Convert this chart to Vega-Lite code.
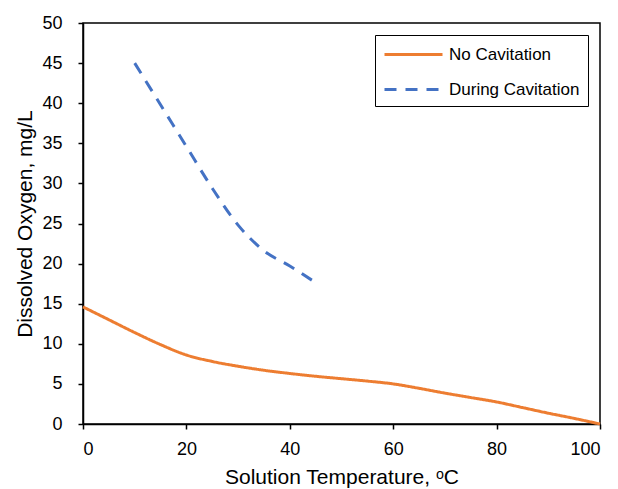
{
  "$schema": "https://vega.github.io/schema/vega-lite/v6.json",
  "width": 517,
  "height": 401,
  "autosize": "none",
  "padding": {"left": 83, "top": 23, "right": 18, "bottom": 65},
  "background": "white",
  "config": {
    "font": "Liberation Sans",
    "view": {"stroke": "black", "strokeWidth": 1.5},
    "axis": {
      "grid": false,
      "domainColor": "black",
      "domainWidth": 1.5,
      "tickColor": "black",
      "tickWidth": 1.5,
      "tickSize": 5,
      "labelColor": "black",
      "labelFontSize": 18,
      "titleColor": "black",
      "titleFontSize": 21,
      "titleFontWeight": "normal",
      "labelFont": "Liberation Sans",
      "titleFont": "Liberation Sans"
    }
  },
  "data": {
    "values": [
      {"series": "No Cavitation", "temp": 0, "do": 14.6},
      {"series": "No Cavitation", "temp": 5, "do": 13.0},
      {"series": "No Cavitation", "temp": 10, "do": 11.4},
      {"series": "No Cavitation", "temp": 15, "do": 9.9},
      {"series": "No Cavitation", "temp": 20, "do": 8.6},
      {"series": "No Cavitation", "temp": 25, "do": 7.8},
      {"series": "No Cavitation", "temp": 30, "do": 7.2},
      {"series": "No Cavitation", "temp": 35, "do": 6.7},
      {"series": "No Cavitation", "temp": 40, "do": 6.3},
      {"series": "No Cavitation", "temp": 45, "do": 5.95},
      {"series": "No Cavitation", "temp": 50, "do": 5.65},
      {"series": "No Cavitation", "temp": 55, "do": 5.35},
      {"series": "No Cavitation", "temp": 60, "do": 5.0},
      {"series": "No Cavitation", "temp": 65, "do": 4.45},
      {"series": "No Cavitation", "temp": 70, "do": 3.85},
      {"series": "No Cavitation", "temp": 75, "do": 3.3},
      {"series": "No Cavitation", "temp": 80, "do": 2.75},
      {"series": "No Cavitation", "temp": 85, "do": 2.05},
      {"series": "No Cavitation", "temp": 90, "do": 1.35},
      {"series": "No Cavitation", "temp": 95, "do": 0.7},
      {"series": "No Cavitation", "temp": 100, "do": 0.0},
      {"series": "During Cavitation", "temp": 10, "do": 45.0},
      {"series": "During Cavitation", "temp": 15, "do": 39.8},
      {"series": "During Cavitation", "temp": 20, "do": 34.6},
      {"series": "During Cavitation", "temp": 25, "do": 29.4},
      {"series": "During Cavitation", "temp": 30, "do": 24.8},
      {"series": "During Cavitation", "temp": 35, "do": 21.6},
      {"series": "During Cavitation", "temp": 40, "do": 19.7},
      {"series": "During Cavitation", "temp": 45.3, "do": 17.5}
    ]
  },
  "mark": {"type": "line", "strokeWidth": 3, "interpolate": "monotone"},
  "encoding": {
    "x": {
      "field": "temp",
      "type": "quantitative",
      "scale": {"domain": [0, 100], "nice": false, "zero": false},
      "axis": {"values": [0, 20, 40, 60, 80, 100], "labelPadding": 11, "titlePadding": 8, "title": "Solution Temperature, ᵒC"}
    },
    "y": {
      "field": "do",
      "type": "quantitative",
      "scale": {"domain": [0, 50], "nice": false},
      "axis": {"values": [0, 5, 10, 15, 20, 25, 30, 35, 40, 45, 50], "labelPadding": 16, "titlePadding": 6, "title": "Dissolved Oxygen, mg/L"}
    },
    "color": {
      "field": "series",
      "type": "nominal",
      "sort": ["No Cavitation", "During Cavitation"],
      "scale": {"domain": ["No Cavitation", "During Cavitation"], "range": ["#ED7D31", "#4472C4"]},
      "legend": {
        "title": null,
        "orient": "top-right",
        "offset": 12,
        "strokeColor": "black",
        "padding": 8,
        "symbolType": "M-1,0H4.8",
        "symbolSize": 400,
        "symbolStrokeWidth": 3,
        "labelFontSize": 17,
        "labelColor": "black",
        "labelFont": "Liberation Sans",
        "labelOffset": 43,
        "rowPadding": 15
      }
    },
    "strokeDash": {
      "field": "series",
      "type": "nominal",
      "sort": ["No Cavitation", "During Cavitation"],
      "scale": {"domain": ["No Cavitation", "During Cavitation"], "range": [[1, 0], [12, 9]]},
      "legend": {
        "title": null,
        "orient": "top-right",
        "offset": 12,
        "strokeColor": "black",
        "padding": 8,
        "symbolType": "M-1,0H4.8",
        "symbolSize": 400,
        "symbolStrokeWidth": 3,
        "labelFontSize": 17,
        "labelColor": "black",
        "labelFont": "Liberation Sans",
        "labelOffset": 43,
        "rowPadding": 15
      }
    }
  }
}
